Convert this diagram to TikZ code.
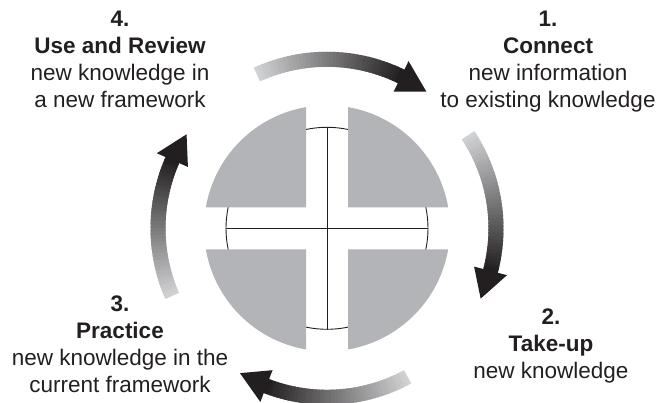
\documentclass[tikz,border=0pt]{standalone}
\usepackage{fontspec}
\setmainfont{Liberation Sans}
\usetikzlibrary{positioning,calc}
\definecolor{piecegray}{RGB}{179,180,183}
\definecolor{inkblack}{RGB}{35,31,32}
\definecolor{arrowlight}{RGB}{208,209,211}
\tikzset{
  stagetext/.style={align=center, anchor=north, inner sep=0pt, text=inkblack,
    font=\fontsize{22.5}{27}\selectfont},
  piece/.style={fill=piecegray},
  hubline/.style={draw=inkblack, line width=0.9pt},
}
% band from tail angle #1 to tip angle #2, light to dark
\newcommand{\cyclearrow}[2]{%
  \pgfmathsetmacro{\headbase}{#2+10}
  \foreach \k in {0,...,39} {
    \pgfmathsetmacro{\angA}{#1+(\headbase-#1)*\k/40}
    \pgfmathsetmacro{\angB}{#1+(\headbase-#1)*(\k+1.6)/40}
    \pgfmathtruncatemacro{\mix}{100*\k/39}
    \fill[inkblack!\mix!arrowlight] (\angA:161.5pt) arc[start angle=\angA, end angle=\angB, radius=161.5pt]
      -- (\angB:176.5pt) arc[start angle=\angB, end angle=\angA, radius=176.5pt] -- cycle;
  }
  \fill[inkblack] (\headbase:152pt) -- (#2:169pt) -- (\headbase:186pt) -- cycle;
}

\begin{document}
\begin{tikzpicture}[x=1pt,y=1pt]
    \useasboundingbox (0,0) rectangle (663,403);
    \coordinate (ctr) at (327,174.7);

    \node[circle, hubline, minimum size=202pt, inner sep=0pt] (hub) at (ctr) {};
    \draw[hubline] (hub.west) -- (hub.east);
    \draw[hubline] (hub.north) -- (hub.south);

    \begin{scope}[shift={(ctr)}]
        \foreach \r in {0,90,180,270}
            \fill[piece, rotate=\r] (21,21) -- (80.17:123pt) arc[start angle=80.17, end angle=9.83, radius=123pt] -- cycle;
        \cyclearrow{114.5}{54}
        \cyclearrow{33.4}{-24.6}
        \cyclearrow{-61.5}{-121}
        \cyclearrow{203.6}{146.2}
    \end{scope}

    \node[stagetext] (connect) at (548,392) {\textbf{1.}\\\textbf{Connect}\\new information\\to existing knowledge};
    \node[stagetext] (takeup) at (551,94) {\textbf{2.}\\\textbf{Take-up}\\new knowledge};
    \node[stagetext] (practice) at (120,107) {\textbf{3.}\\\textbf{Practice}\\new knowledge in the\\current framework};
    \node[stagetext] (review) at (120,392) {\textbf{4.}\\\textbf{Use and Review}\\new knowledge in\\a new framework};
\end{tikzpicture}
\end{document}
